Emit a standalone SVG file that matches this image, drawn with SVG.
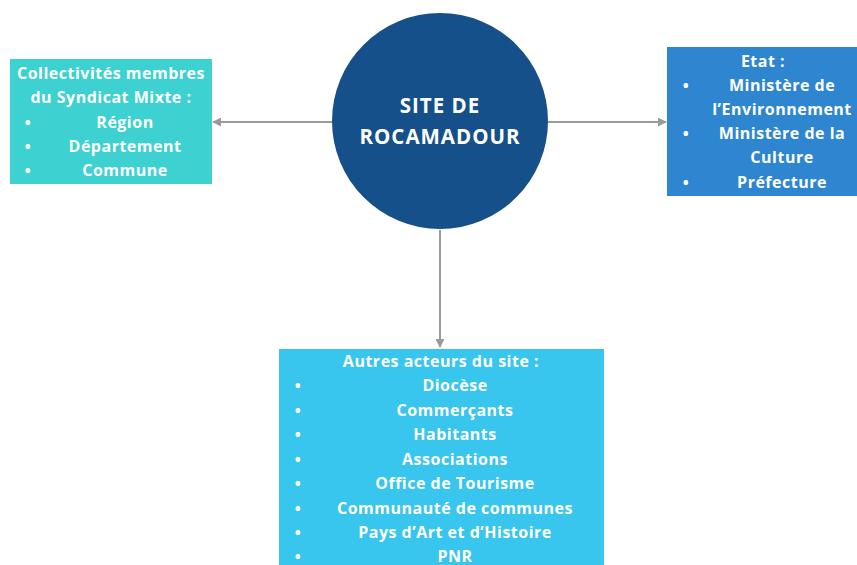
<svg xmlns="http://www.w3.org/2000/svg" width="857" height="565" viewBox="0 0 857 565">
<defs>
<marker id="ah" viewBox="0 0 10 10" refX="9" refY="5" markerWidth="9" markerHeight="9" markerUnits="userSpaceOnUse" orient="auto">
<path d="M0,0 L10,5 L0,10 z" fill="#9a9a9a"/>
</marker>
<style>
text{font-family:"Open Sans","DejaVu Sans",sans-serif;font-weight:700;fill:#ffffff;font-size:16px;text-anchor:middle;letter-spacing:0.5px}
.t{font-size:20.5px;letter-spacing:1px}
.c{fill:none;stroke:#9a9a9a;stroke-width:2}
</style>
</defs>
<rect width="857" height="565" fill="#ffffff"/>
<g id="connectors">
<line class="c" x1="332" y1="122" x2="213" y2="122" marker-end="url(#ah)"/>
<line class="c" x1="547" y1="122" x2="666" y2="122" marker-end="url(#ah)"/>
<line class="c" x1="440" y1="230" x2="440" y2="347" marker-end="url(#ah)"/>
</g>
<g id="site">
<circle cx="440" cy="121" r="108" fill="#16508a"/>
<text class="t" x="440" y="113">SITE DE</text>
<text class="t" x="440" y="144">ROCAMADOUR</text>
</g>
<g id="collectivites">
<rect x="10" y="59" width="202" height="125" fill="#3dd1d1"/>
<text x="111" y="79">Collectivités membres</text>
<text x="111" y="103">du Syndicat Mixte :</text>
<text x="28" y="128">•</text><text x="125" y="128">Région</text>
<text x="28" y="152">•</text><text x="125" y="152">Département</text>
<text x="28" y="176">•</text><text x="125" y="176">Commune</text>
</g>
<g id="etat">
<rect x="667" y="47" width="190" height="149" fill="#2e86d0"/>
<text x="763" y="67">Etat :</text>
<text x="686" y="91">•</text><text x="782" y="91">Ministère de</text>
<text x="782" y="115">l’Environnement</text>
<text x="686" y="139">•</text><text x="782" y="139">Ministère de la</text>
<text x="782" y="163">Culture</text>
<text x="686" y="188">•</text><text x="782" y="188">Préfecture</text>
</g>
<g id="autres">
<rect x="279" y="349" width="325" height="216" fill="#38c5ee"/>
<text x="441" y="367">Autres acteurs du site :</text>
<text x="298" y="391">•</text><text x="455" y="391">Diocèse</text>
<text x="298" y="416">•</text><text x="455" y="416">Commerçants</text>
<text x="298" y="440">•</text><text x="455" y="440">Habitants</text>
<text x="298" y="465">•</text><text x="455" y="465">Associations</text>
<text x="298" y="489">•</text><text x="455" y="489">Office de Tourisme</text>
<text x="298" y="514">•</text><text x="455" y="514">Communauté de communes</text>
<text x="298" y="538">•</text><text x="455" y="538">Pays d’Art et d’Histoire</text>
<text x="298" y="562">•</text><text x="455" y="562">PNR</text>
</g>
</svg>
